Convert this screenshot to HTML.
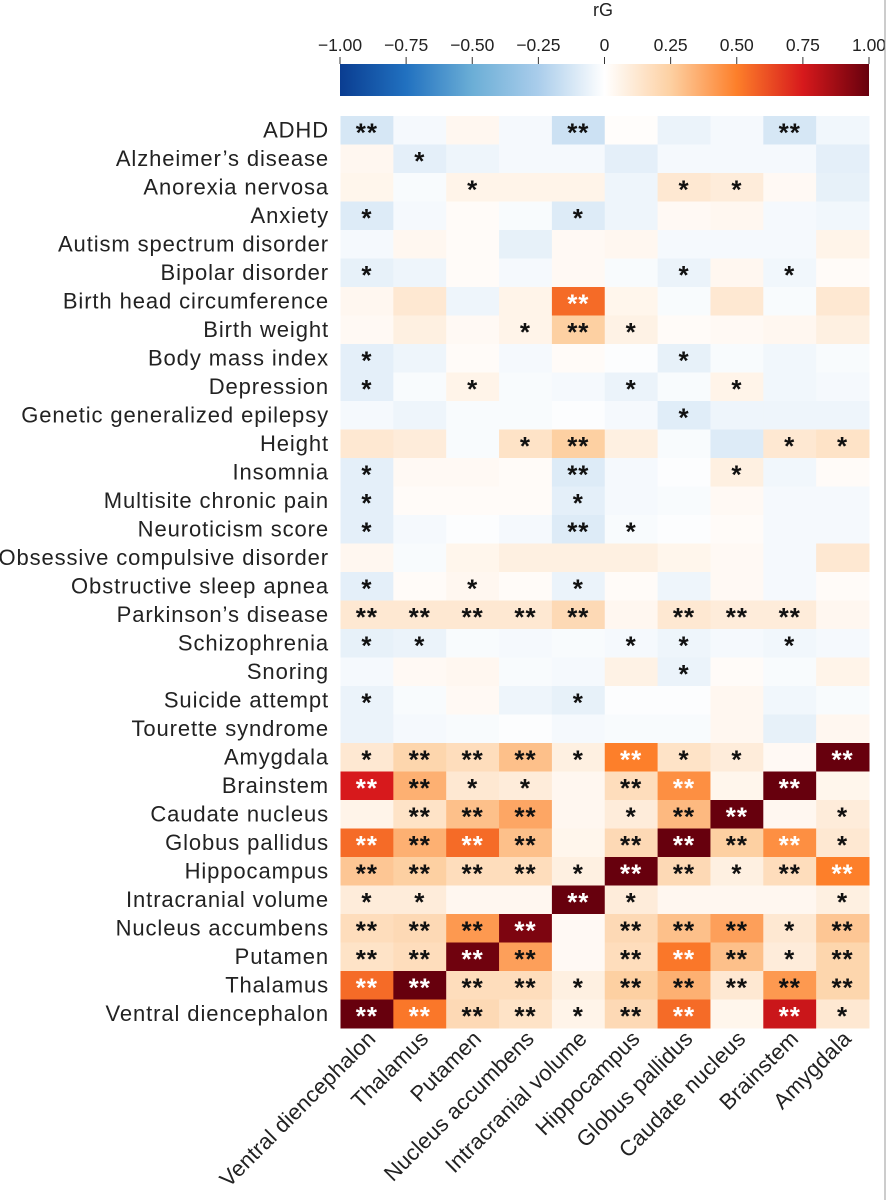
<!DOCTYPE html>
<html><head><meta charset="utf-8"><style>
body{margin:0;background:#fff;width:888px;height:1200px;overflow:hidden}
svg{display:block;font-family:"Liberation Sans",sans-serif}
</style></head><body>
<svg id="chart" width="888" height="1200" viewBox="0 0 888 1200" xmlns="http://www.w3.org/2000/svg">
<defs><linearGradient id="cbar" x1="0" x2="1" y1="0" y2="0">
<stop offset="0" stop-color="#0a3d91"/><stop offset="0.125" stop-color="#2171c0"/><stop offset="0.25" stop-color="#6baed6"/><stop offset="0.375" stop-color="#aacdeb"/><stop offset="0.5" stop-color="#ffffff"/><stop offset="0.625" stop-color="#fdd0a2"/><stop offset="0.75" stop-color="#fd7f2a"/><stop offset="0.875" stop-color="#d7191c"/><stop offset="1" stop-color="#67000d"/></linearGradient></defs>
<text x="603" y="16" font-size="18" text-anchor="middle" fill="#222">rG</text>
<rect x="340" y="64" width="529" height="32" fill="url(#cbar)"/>
<g id="cbticks"></g>
<g id="cells"></g><g id="stars"></g><g id="rowlabels"></g><g id="collabels"></g>
<line x1="885" y1="0" x2="885" y2="1200" stroke="#999" stroke-width="1"/>
</svg>
<script>
const rows=["ADHD","Alzheimer’s disease","Anorexia nervosa","Anxiety","Autism spectrum disorder","Bipolar disorder","Birth head circumference","Birth weight","Body mass index","Depression","Genetic generalized epilepsy","Height","Insomnia","Multisite chronic pain","Neuroticism score","Obsessive compulsive disorder","Obstructive sleep apnea","Parkinson’s disease","Schizophrenia","Snoring","Suicide attempt","Tourette syndrome","Amygdala","Brainstem","Caudate nucleus","Globus pallidus","Hippocampus","Intracranial volume","Nucleus accumbens","Putamen","Thalamus","Ventral diencephalon"];
const cols=["Ventral diencephalon","Thalamus","Putamen","Nucleus accumbens","Intracranial volume","Hippocampus","Globus pallidus","Caudate nucleus","Brainstem","Amygdala"];
const values=[
[-0.12,-0.03,0.04,-0.03,-0.15,0.01,-0.06,-0.03,-0.12,-0.04],
[0.04,-0.08,-0.05,-0.03,-0.03,-0.08,-0.03,-0.03,-0.03,-0.08],
[0.05,-0.02,0.06,0.06,0.06,-0.05,0.12,0.1,0.03,-0.07],
[-0.1,-0.03,0.02,-0.02,-0.1,-0.05,0.03,0.04,-0.03,-0.04],
[-0.03,0.04,0.02,-0.07,0.03,0.04,-0.03,-0.03,-0.03,0.06],
[-0.07,-0.05,0.02,-0.03,0.03,-0.02,-0.06,0.04,-0.04,0.02],
[0.04,0.12,-0.05,0.06,0.55,0.05,-0.02,0.12,-0.02,0.12],
[0.03,0.08,0.03,0.06,0.25,0.07,0.02,0.03,0.04,0.08],
[-0.08,-0.05,0.02,-0.03,0.02,-0.01,-0.07,-0.02,-0.04,-0.02],
[-0.08,-0.02,0.06,-0.02,-0.03,-0.06,-0.02,0.06,-0.04,-0.03],
[-0.03,-0.05,-0.02,-0.02,-0.01,-0.03,-0.09,-0.05,-0.05,-0.05],
[0.12,0.1,-0.02,0.15,0.25,0.08,-0.02,-0.1,0.12,0.15],
[-0.08,0.03,0.03,0.02,-0.1,-0.03,-0.01,0.08,-0.04,0.02],
[-0.08,0.02,0.02,0.02,-0.08,-0.03,-0.02,0.03,-0.03,-0.03],
[-0.08,-0.03,-0.01,-0.03,-0.1,-0.02,-0.01,0.02,-0.03,-0.03],
[0.04,-0.02,0.05,0.08,0.08,0.08,0.05,0.03,-0.03,0.12],
[-0.08,0.02,0.04,0.02,-0.06,0.02,-0.05,0.03,-0.03,0.02],
[0.12,0.12,0.12,0.12,0.2,0.04,0.12,0.1,0.1,0.04],
[-0.07,-0.06,-0.02,-0.03,-0.02,-0.03,-0.05,-0.03,-0.04,-0.03],
[-0.03,0.03,0.04,-0.02,-0.03,0.07,-0.06,0.02,-0.02,0.06],
[-0.06,-0.02,0.03,-0.05,-0.07,-0.01,-0.01,0.04,-0.04,-0.02],
[-0.06,-0.03,-0.02,-0.01,-0.03,-0.02,-0.02,0.04,-0.07,0.04],
[0.12,0.22,0.18,0.3,0.08,0.5,0.15,0.1,0.03,1.0],
[0.75,0.35,0.12,0.1,0.04,0.18,0.45,0.05,1.0,0.05],
[0.06,0.15,0.3,0.38,0.04,0.1,0.32,1.0,0.04,0.1],
[0.55,0.35,0.55,0.3,0.05,0.2,1.0,0.25,0.45,0.12],
[0.28,0.25,0.18,0.18,0.08,1.0,0.2,0.08,0.18,0.5],
[0.1,0.1,0.04,0.04,1.0,0.1,0.04,0.04,0.04,0.08],
[0.18,0.2,0.42,0.95,0.03,0.2,0.3,0.4,0.12,0.28],
[0.15,0.18,0.98,0.4,0.03,0.18,0.52,0.3,0.1,0.22],
[0.55,1.0,0.18,0.18,0.08,0.25,0.35,0.12,0.42,0.22],
[1.0,0.52,0.2,0.15,0.06,0.2,0.55,0.05,0.78,0.12]];
const signif=["2000200020","0100000000","0010001100","1000100000","0000000000","1000001010","0000200000","0001210000","1000001000","1010010100","0000001000","0001200011","1000200100","1000100000","1000210000","0000000000","1010100000","2222202220","1100011010","0000001000","1000100000","0000000000","1222121102","2211022020","0222012201","2222022221","2222122122","1100210001","2222022212","2222022212","2222122222","2222122021"];
const tickVals=[-1,-0.75,-0.5,-0.25,0,0.25,0.5,0.75,1];
const tickLabels=["−1.00","−0.75","−0.50","−0.25","0","0.25","0.50","0.75","1.00"];

const NS="http://www.w3.org/2000/svg";
const X0=340.5,X1=869,Y0=116,Y1=1028;
const cw=(X1-X0)/cols.length, rh=(Y1-Y0)/rows.length;
const xCol=i=>X0+i*cw, yRow=j=>Y0+j*rh;
const xBar=v=>340+(v+1)/2*529;
const stops=[[-1,[10,61,145]],[-0.75,[33,113,192]],[-0.5,[107,174,214]],[-0.25,[170,205,235]],[0,[255,255,255]],[0.25,[253,208,162]],[0.5,[253,127,42]],[0.75,[215,25,28]],[1,[103,0,13]]];
function color(v){v=Math.max(-1,Math.min(1,v));for(let k=0;k<stops.length-1;k++){const[a,ca]=stops[k],[b,cb]=stops[k+1];if(v<=b){const t=(v-a)/(b-a);return "rgb("+ca.map((c,i)=>Math.round(c+(cb[i]-c)*t)).join(",")+")";}}return "rgb(103,0,13)";}
function mk(tag,attrs,parent){const e=document.createElementNS(NS,tag);for(const k in attrs)e.setAttribute(k,attrs[k]);document.getElementById(parent).appendChild(e);return e;}
tickVals.forEach((v,i)=>{
 const l=mk("line",{x1:xBar(v),x2:xBar(v),y1:57,y2:64,stroke:"#333","stroke-width":1},"cbticks");
 
 
 const t=mk("text",{x:xBar(v),y:51,"font-size":17.5,"text-anchor":"middle",fill:"#222"},"cbticks");
 t.textContent=tickLabels[i];
 
 
});
values.forEach((row,j)=>row.forEach((v,i)=>{
 const r=mk("rect",{x:xCol(i),y:yRow(j),width:cw+0.5,height:rh+0.5,fill:color(v)},"cells");
 
 
 const n=+signif[j][i];
 if(n>0){
  const s=mk("text",{x:xCol(i)+cw/2,y:yRow(j)+rh/2+11,"font-size":26,"font-weight":"bold","letter-spacing":"1","text-anchor":"middle",fill:v>=0.45?"#fff":"#111"},"stars");
  s.textContent=n===2?"**":"*";
  
  
 }
}));
rows.forEach((name,j)=>{
 const t=mk("text",{x:329,y:yRow(j)+rh/2+7,"font-size":22,"letter-spacing":"0.9","text-anchor":"end",fill:"#222"},"rowlabels");
 t.textContent=name;
 
 
});
cols.forEach((name,i)=>{
 const cx=xCol(i)+cw/2+10,cy=1040;
 const t=mk("text",{x:cx,y:cy,"font-size":22,"letter-spacing":"0.2","text-anchor":"end",fill:"#222",transform:"rotate(-45 "+cx+" "+cy+")"},"collabels");
 t.textContent=name;
 
 
});
</script>
</body></html>
